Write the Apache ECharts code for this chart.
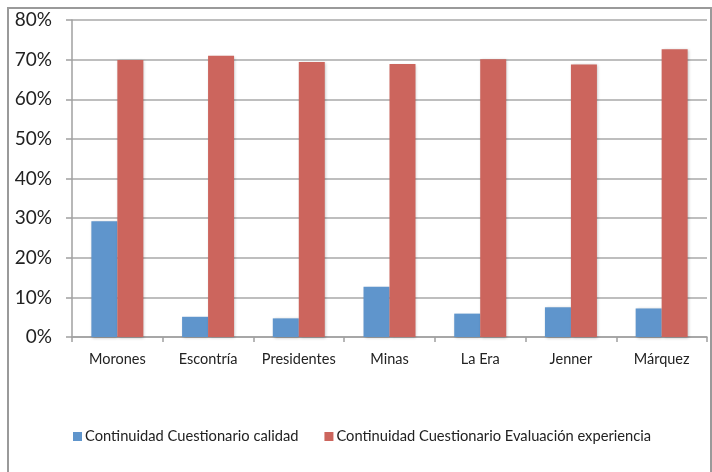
<!DOCTYPE html>
<html>
<head>
<meta charset="utf-8">
<script src="https://cdn.jsdelivr.net/npm/echarts@6/dist/echarts.min.js"></script>
<style>
  html, body { margin: 0; padding: 0; background: #fff; }
  #chart { width: 712px; height: 472px; }
</style>
</head>
<body>
<div id="chart"></div>
<script>
// Centres and their continuity rates (fractions of 1)
const categories = ['Morones', 'Escontría', 'Presidentes', 'Minas', 'La Era', 'Jenner', 'Márquez'];
const seriesNames = ['Continuidad Cuestionario calidad', 'Continuidad Cuestionario Evaluación experiencia'];
const calidad = [0.292, 0.051, 0.047, 0.127, 0.059, 0.075, 0.072];
const experiencia = [0.699, 0.710, 0.694, 0.689, 0.701, 0.688, 0.726];
const yTicks = { min: 0, max: 0.8, interval: 0.1 };

const FONT = 'Lato';
const chart = echarts.init(document.getElementById('chart'), null, { renderer: 'canvas' });

const barShadow = { shadowBlur: 3, shadowColor: 'rgba(0,0,0,0.25)', shadowOffsetX: 1, shadowOffsetY: 1 };

chart.setOption({
  animation: false,
  backgroundColor: '#ffffff',
  graphic: [{
    type: 'rect',
    shape: { x: 8, y: 8, width: 703, height: 480 },
    style: { fill: 'none', stroke: '#9a9a9a', lineWidth: 2 },
    silent: true
  }],
  grid: { left: 72, right: 5, top: 20, bottom: 135, containLabel: false },
  legend: {
    data: seriesNames,
    left: 68,
    top: 424,
    itemWidth: 9,
    itemHeight: 9,
    itemGap: 26,
    icon: 'rect',
    textStyle: { fontFamily: FONT, fontSize: 14.7, color: '#222', padding: [0, 0, 0, -2] }
  },
  xAxis: {
    type: 'category',
    data: categories,
    axisLine: { lineStyle: { color: '#a0a0a0', width: 1.5 } },
    axisTick: { show: true, length: 5, lineStyle: { color: '#a0a0a0', width: 1.5 } },
    axisLabel: { fontFamily: FONT, fontSize: 14.5, color: '#222', margin: 15, interval: 0, hideOverlap: false }
  },
  yAxis: {
    type: 'value',
    min: yTicks.min,
    max: yTicks.max,
    interval: yTicks.interval,
    axisLine: { show: true, lineStyle: { color: '#a0a0a0', width: 1.5 } },
    axisTick: { show: true, length: 6, lineStyle: { color: '#a0a0a0', width: 1.5 } },
    axisLabel: {
      fontFamily: FONT, fontSize: 19, color: '#222', margin: 20,
      formatter: v => Math.round(v * 100) + '%'
    },
    splitLine: { show: true, lineStyle: { color: '#a8a8a8', width: 1.5 } }
  },
  series: [
    {
      name: seriesNames[0],
      type: 'bar',
      data: calidad,
      barGap: '0%',
      barCategoryGap: '42.7%',
      itemStyle: Object.assign({ color: '#5f95cc' }, barShadow)
    },
    {
      name: seriesNames[1],
      type: 'bar',
      data: experiencia,
      barGap: '0%',
      barCategoryGap: '42.7%',
      itemStyle: Object.assign({ color: '#cc655d' }, barShadow)
    }
  ]
});
</script>
</body>
</html>
